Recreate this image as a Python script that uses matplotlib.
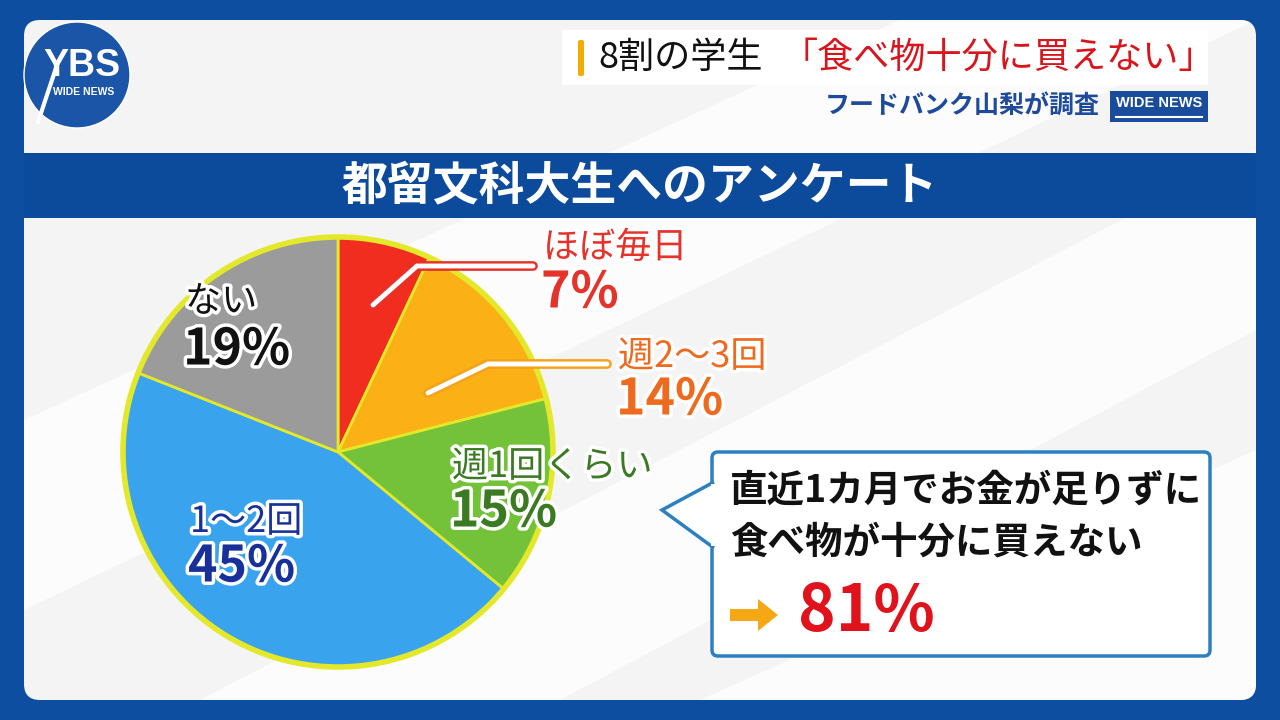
import matplotlib.pyplot as plt
import matplotlib.patches as mpatches
import matplotlib.patheffects as pe

plt.rcParams['font.family'] = ['Noto Sans CJK JP', 'DejaVu Sans']

# survey data
categories = ['ほぼ毎日', '週2〜3回', '週1回くらい', '1〜2回', 'ない']
values = [7, 14, 15, 45, 19]
colors = ['#f02d1e', '#fbb016', '#74c23a', '#3aa3ee', '#9b9b9b']
label_colors = ['#e5322a', '#ee6a1e', '#3b7a22', '#17309a', '#111111']
summary_value = 81

fig = plt.figure(figsize=(12.8, 7.2), dpi=100)
fig.patch.set_facecolor('#0d4ea0')
ax = fig.add_axes([0, 0, 1, 1])
ax.set_xlim(0, 1280)
ax.set_ylim(720, 0)
ax.axis('off')

# white panel with faint diagonal stripes
panel = mpatches.FancyBboxPatch((36, 32), 1208, 656, boxstyle='round,pad=12,rounding_size=16',
                                fc='#f4f4f4', ec='none')
ax.add_patch(panel)
for poly in [[(200, 700), (1256, 150), (1256, 330), (560, 700)],
             [(24, 420), (900, 20), (1256, 20), (24, 610)],
             [(700, 700), (1256, 450), (1256, 700)]]:
    ax.add_patch(mpatches.Polygon(poly, closed=True, fc='white', ec='none', alpha=0.8, clip_path=panel))

# logo
ax.add_patch(mpatches.Circle((77, 75), 53, fc='#1a55a8', ec='white', lw=1))
ax.plot([38, 58], [122, 62], color='white', lw=3, solid_capstyle='round')
ax.text(82, 66, 'YBS', color='white', fontsize=27, fontweight='bold', ha='center', va='center',
        family=['Liberation Sans', 'DejaVu Sans'])
ax.text(84, 92, 'WIDE NEWS', color='white', fontsize=7.5, fontweight='bold', ha='center', va='center',
        family=['Liberation Sans', 'DejaVu Sans'])

# headline
ax.add_patch(mpatches.Rectangle((562, 30), 646, 55, fc='white', ec='none'))
ax.add_patch(mpatches.FancyBboxPatch((578, 40), 6, 36, boxstyle='round,pad=0,rounding_size=2',
                                     fc='#f2ad00', ec='none'))
ax.text(598, 58, '8割の学生', fontsize=26, color='#111111', va='center', ha='left')
ax.text(782, 58, '「食べ物十分に買えない」', fontsize=26, color='#d8141c', va='center', ha='left')
ax.text(1100, 106, 'フードバンク山梨が調査', fontsize=18, color='#1d4a9a', fontweight='bold',
        va='center', ha='right')
ax.add_patch(mpatches.Rectangle((1110, 91), 98, 31, fc='#1a4c9c', ec='none'))
ax.text(1159, 103, 'WIDE NEWS', fontsize=10.5, color='white', fontweight='bold', va='center', ha='center',
        family=['Liberation Sans', 'DejaVu Sans'])
ax.plot([1116, 1202], [117, 117], color='white', lw=1.5)

# banner
ax.add_patch(mpatches.Rectangle((24, 153), 1232, 65, fc='#0c4a9c', ec='none'))
ax.text(640, 186, '都留文科大生へのアンケート', fontsize=33, color='white', fontweight='bold',
        ha='center', va='center')

# pie (y axis inverted, so counterclock=True draws clockwise on screen)
cx, cy, r = 338, 452, 215
ax.pie(values, colors=colors, startangle=-90, counterclock=True, center=(cx, cy), radius=r,
       frame=True, wedgeprops=dict(edgecolor='#e4e82a', linewidth=2))
ax.add_patch(mpatches.Circle((cx, cy), r, fc='none', ec='#e4e82a', lw=4))
ax.set_xlim(0, 1280)
ax.set_ylim(720, 0)
ax.set_aspect('auto')
ax.axis('off')

# leader lines
for xs, ys, c in [([373, 417, 533], [305, 266, 266], label_colors[0]),
                  ([428, 488, 607], [393, 364, 364], '#f3a21b')]:
    ax.plot(xs, ys, color=c, lw=7, solid_capstyle='round', solid_joinstyle='miter')
    ax.plot(xs, ys, color='white', lw=3.5, solid_capstyle='round', solid_joinstyle='miter')

label_pos = [(543, 248, 293), (618, 357, 400), (452, 467, 512), (190, 522, 567), (185, 302, 350)]
stroke = [pe.withStroke(linewidth=5, foreground='white')]
for cat, v, col, (lx, ly1, ly2) in zip(categories, values, label_colors, label_pos):
    ax.text(lx, ly1, cat, fontsize=26, color=col, ha='left', va='center', path_effects=stroke)
    ax.text(lx - 2, ly2, f'{v}%', fontsize=36, color=col, fontweight='bold', ha='left', va='center',
            path_effects=stroke)

# callout box
box = mpatches.FancyBboxPatch((718, 458), 486, 192, boxstyle='round,pad=6,rounding_size=6',
                              fc='white', ec='#2a80c2', lw=2.5)
ax.add_patch(box)
ax.add_patch(mpatches.Polygon([(714, 482), (662, 510), (714, 548)], closed=False,
                              fc='white', ec='#2a80c2', lw=2.5, joinstyle='miter'))
ax.add_patch(mpatches.Rectangle((711, 484), 6, 62, fc='white', ec='none'))
ax.text(730, 490, '直近1カ月でお金が足りずに', fontsize=27, fontweight='bold', color='#111111',
        ha='left', va='center')
ax.text(730, 542, '食べ物が十分に買えない', fontsize=27, fontweight='bold', color='#111111',
        ha='left', va='center')
ax.add_patch(mpatches.FancyArrow(730, 615, 48, 0, width=12, head_width=32, head_length=20,
                                 length_includes_head=True, fc='#f5a813', ec='none'))
ax.text(798, 612, f'{summary_value}%', fontsize=46, fontweight='bold', color='#e0121c',
        ha='left', va='center')

fig.savefig('out.png', dpi=100, facecolor=fig.get_facecolor())
